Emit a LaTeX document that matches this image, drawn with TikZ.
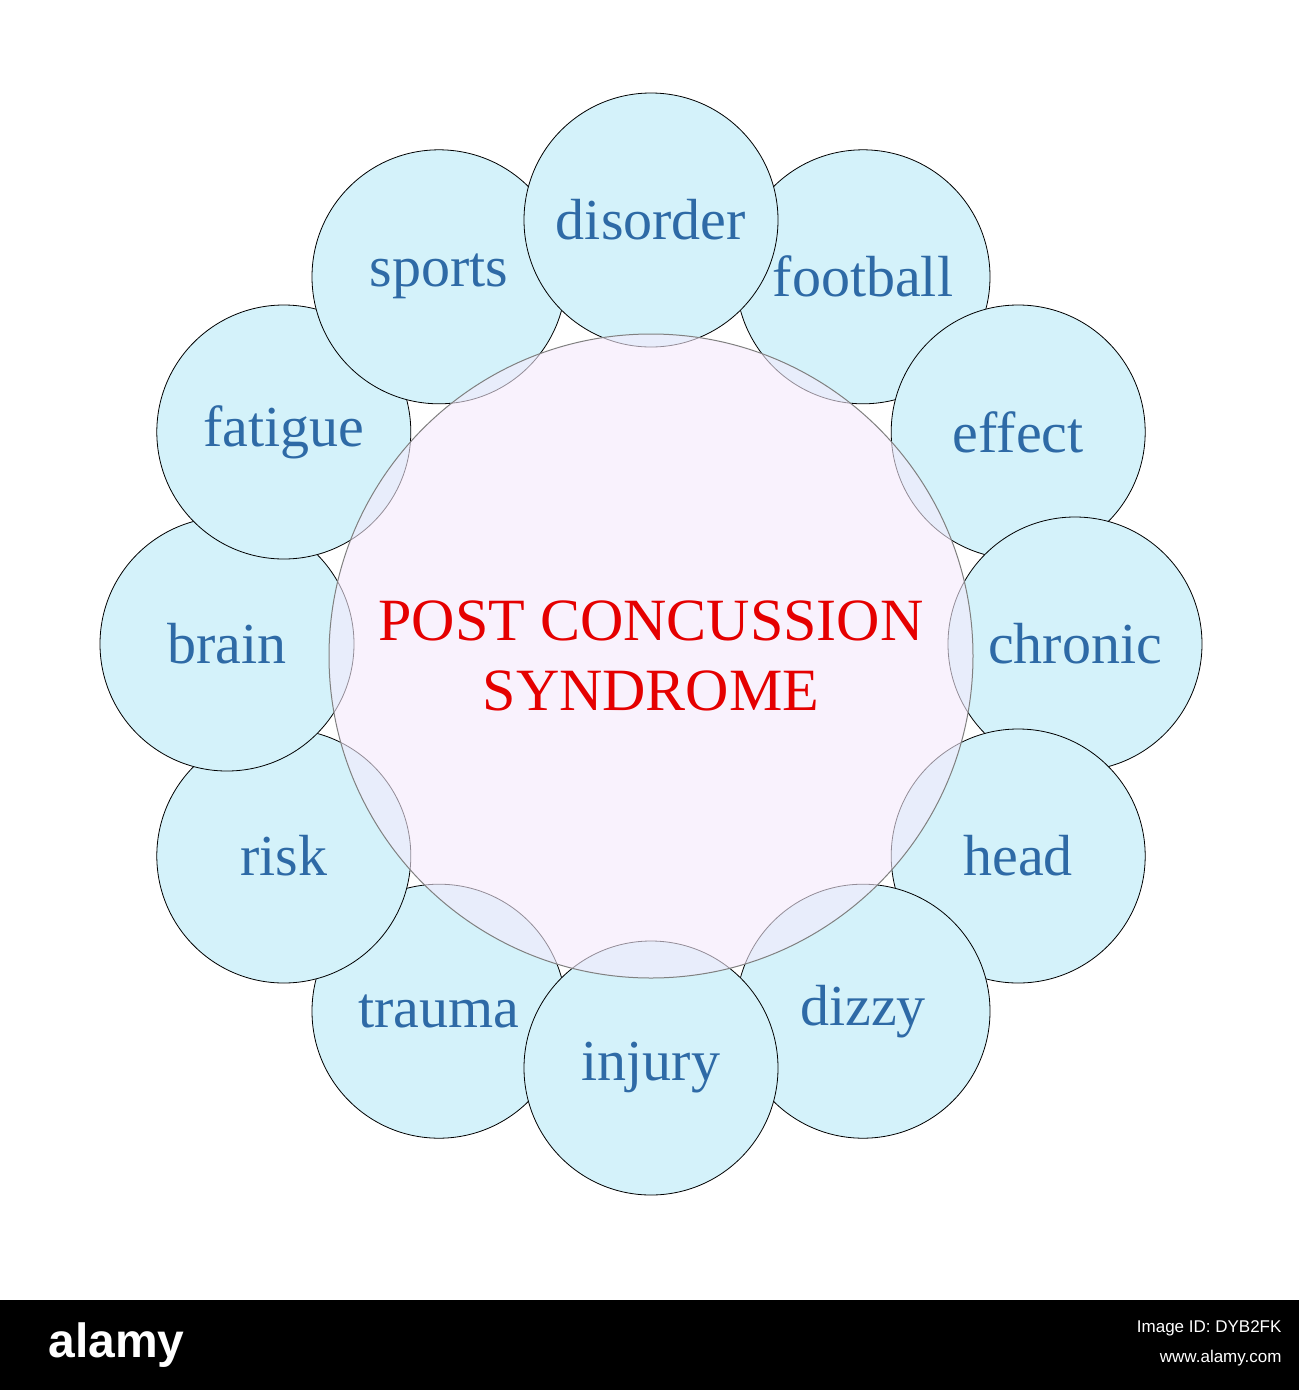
\documentclass[tikz,border=0pt]{standalone}
\usepackage{fontspec}
\usetikzlibrary{calc}
\setmainfont{Liberation Serif}
\newfontfamily\sansf{Liberation Sans}
\begin{document}
\begin{tikzpicture}[x=1pt,y=-1pt,
  outer/.style={circle,draw=black,line width=0.8pt,fill=cyanlt,minimum size=254pt,inner sep=0pt,text=wordblue,font=\fontsize{58}{60}\selectfont},
  hub/.style={circle,draw=gray,line width=1pt,fill=lav,fill opacity=0.6,text opacity=1,minimum size=644pt,inner sep=0pt,text=red!90!black,align=center,font=\fontsize{60}{70}\selectfont}]
\definecolor{cyanlt}{HTML}{D4F2FA}
\definecolor{lav}{HTML}{F6EAFC}
\definecolor{wordblue}{HTML}{2E6AA6}
\fill[white] (0,0) rectangle (1299,1390);
\useasboundingbox (0,0) rectangle (1299,1390);
\coordinate (c) at (651,644);
\foreach \w/\i in {football/1,effect/2,chronic/3,head/4,dizzy/5,trauma/7,risk/8,brain/9,fatigue/10,sports/11,disorder/0,injury/6}{
  \node[outer] (n\i) at ($(c)+({424*sin(30*\i)},{-424*cos(30*\i)})$) {\w};
}
\node[hub] (hub) at ($(c)+(0,12)$) {POST CONCUSSION\\SYNDROME};
\fill[black] (0,1300) rectangle (1299,1390);
\node[text=white,font=\sansf\bfseries\fontsize{48}{50}\selectfont,anchor=west] (logo) at (45,1345) {alamy};
\node[text=white,font=\sansf\fontsize{17}{19}\selectfont,anchor=east] (id) at (1285,1328) {Image ID: DYB2FK};
\node[text=white,font=\sansf\fontsize{17}{19}\selectfont,anchor=east] (www) at (1285,1358) {www.alamy.com};
\end{tikzpicture}
\end{document}
